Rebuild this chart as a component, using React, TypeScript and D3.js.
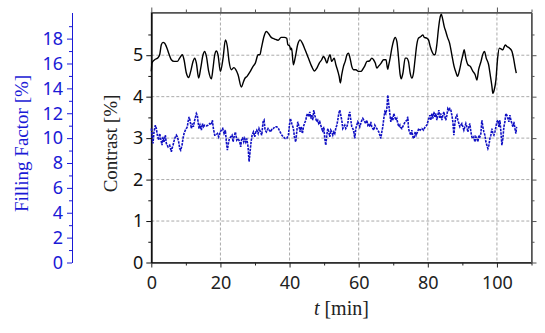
import React, { useEffect, useRef } from 'react';
import * as d3 from 'd3';

// contrast [%] over time [min], black line
const contrastSeries: [number, number][] = [
  [0, 4.61], [0.2, 4.81], [0.97, 4.89], [1.94, 4.94], [2.42, 5.01], [2.9, 5.25], [3.39, 5.31], [3.87, 5.29], [4.35, 5.21],
  [5.03, 5.05], [5.8, 4.89], [6.57, 4.85], [7.53, 4.85], [8.2, 4.93], [8.98, 5.01], [9.47, 4.89], [10.14, 4.57], [10.8, 4.46],
  [11.4, 4.61], [12.07, 4.85], [12.56, 4.93], [13.04, 4.81], [13.71, 4.45], [14.3, 4.69], [14.97, 5.01], [15.45, 5.09],
  [15.94, 4.97], [16.61, 4.61], [17.38, 4.43], [17.86, 4.69], [18.35, 5.01], [18.83, 5.1], [19.3, 5.01], [19.99, 4.61],
  [20.76, 4.93], [21.44, 5.37], [22.0, 5.21], [22.5, 4.85], [23.16, 4.65], [23.9, 4.7], [24.4, 4.66], [25.1, 4.53],
  [26.06, 4.23], [26.55, 4.33], [27.0, 4.43], [27.7, 4.49], [28.5, 4.59], [29.44, 4.73], [30.1, 4.81], [30.9, 5.01],
  [31.4, 5.01], [31.85, 5.17], [32.6, 5.45], [33.3, 5.57], [34.0, 5.51], [34.7, 5.43], [35.7, 5.39], [36.7, 5.36],
  [37.55, 5.43], [38.5, 5.43], [39.2, 5.41], [39.5, 5.25], [39.96, 5.23], [40.45, 5.13], [40.6, 5.17], [41.1, 4.77],
  [41.6, 4.93], [42.4, 5.27], [43.05, 5.37], [43.7, 5.29], [44.5, 5.13], [45.45, 4.93], [46.4, 4.73], [47.2, 4.62],
  [47.9, 4.69], [48.6, 4.81], [49.3, 4.89], [49.8, 4.97], [50.3, 4.91], [50.8, 4.81], [51.25, 4.93], [51.7, 5.01],
  [52.2, 4.85], [52.9, 4.93], [53.4, 4.77], [53.95, 4.62], [54.35, 4.49], [54.7, 4.33], [55.1, 4.53], [55.6, 4.73],
  [56.1, 4.85], [56.6, 5.01], [57.05, 5.05], [57.5, 4.93], [58.0, 4.73], [58.5, 4.65], [59.2, 4.65], [59.9, 4.61],
  [60.7, 4.61], [61.1, 4.65], [61.7, 4.73], [62.4, 4.85], [63.1, 4.86], [63.8, 4.93], [64.3, 4.89], [64.8, 4.81],
  [65.25, 4.69], [65.7, 4.73], [66.5, 4.81], [67.2, 4.89], [67.9, 4.89], [68.4, 4.66], [68.6, 4.73], [69.1, 4.93],
  [69.6, 5.17], [70.1, 5.35], [70.55, 5.43], [71.05, 5.33], [71.5, 4.97], [72.0, 4.53], [72.3, 4.43], [72.8, 4.57],
  [73.45, 4.93], [73.9, 4.93], [74.4, 4.85], [74.9, 4.57], [75.4, 4.45], [75.85, 4.57], [76.35, 4.93], [76.8, 5.25],
  [77.3, 5.41], [78.0, 5.45], [78.6, 5.49], [78.95, 5.43], [79.7, 5.41], [80.2, 5.37], [80.7, 5.21], [81.2, 5.09],
  [81.65, 5.02], [82.1, 5.01], [82.6, 5.25], [83.1, 5.65], [83.6, 5.93], [83.9, 5.99], [84.25, 5.89], [84.75, 5.69],
  [85.2, 5.57], [85.7, 5.43], [86.3, 5.29], [86.95, 5.01], [87.6, 4.73], [88.2, 4.57], [88.6, 4.49], [89.2, 4.65],
  [89.7, 4.85], [90.15, 5.01], [90.5, 5.13], [91.0, 4.93], [91.6, 4.77], [92.3, 4.73], [93.05, 4.61], [93.7, 4.53],
  [94.2, 4.4], [94.7, 4.65], [95.4, 4.85], [95.9, 5.02], [96.4, 5.09], [96.9, 4.93], [97.6, 4.77], [98.05, 4.53],
  [98.55, 4.25], [98.8, 4.08], [99.2, 4.16], [99.7, 4.4], [100.2, 4.93], [100.7, 5.17], [101.2, 5.15], [101.7, 5.13],
  [102.4, 5.25], [102.9, 5.21], [103.65, 5.17], [104.3, 5.1], [104.8, 4.93], [105.3, 4.69], [105.6, 4.57],
];

// filling factor [%] over time [min], blue dashed line
const fillingSeries: [number, number][] = [
  [0.01, 10.77], [0.2, 10.24], [0.49, 9.57], [0.78, 10.5], [1.17, 11.04], [1.46, 10.77], [1.75, 10.24], [2.13, 9.84],
  [2.42, 10.37], [2.71, 9.97], [3.1, 9.43], [3.39, 10.1], [3.68, 9.7], [4.06, 10.24], [4.35, 9.57], [4.84, 9.3],
  [5.32, 9.43], [5.8, 8.9], [6.0, 9.17], [6.28, 9.43], [6.77, 9.97], [7.25, 10.24], [7.54, 10.1], [7.92, 9.7],
  [8.21, 9.17], [8.5, 9.03], [8.89, 9.43], [9.18, 9.97], [9.47, 10.37], [9.85, 10.64], [10.14, 10.77], [10.43, 10.91],
  [10.63, 11.31], [10.92, 11.71], [11.2, 11.44], [11.59, 10.77], [11.88, 11.17], [12.17, 10.91], [12.56, 11.44],
  [13.04, 11.98], [13.33, 11.84], [13.52, 11.31], [13.81, 10.77], [14.1, 11.04], [14.49, 10.64], [14.78, 11.17],
  [15.07, 10.91], [15.45, 11.04], [15.93, 10.99], [16.42, 11.04], [16.9, 11.17], [17.38, 11.09], [17.67, 11.44],
  [17.96, 10.77], [18.35, 10.24], [18.73, 10.24], [19.12, 10.37], [19.5, 10.1], [19.89, 10.5], [20.28, 10.64],
  [20.66, 10.77], [21.05, 10.37], [21.43, 10.64], [21.72, 9.7], [22.01, 9.03], [22.3, 9.57], [22.59, 9.97],
  [22.98, 10.1], [23.37, 10.24], [23.65, 9.7], [23.94, 10.1], [24.33, 10.5], [24.72, 9.84], [25.1, 9.97], [25.58, 9.7],
  [25.87, 9.3], [26.16, 9.97], [26.45, 10.02], [26.74, 9.7], [27.03, 9.97], [27.32, 9.7], [27.61, 9.97], [28.0, 9.3],
  [28.29, 8.1], [28.58, 8.9], [28.87, 9.7], [29.16, 10.24], [29.54, 10.5], [29.93, 10.1], [30.22, 10.5], [30.51, 10.64],
  [30.9, 10.37], [31.18, 10.77], [31.57, 10.5], [31.95, 10.24], [32.34, 11.31], [32.63, 11.44], [32.92, 10.64],
  [33.3, 10.5], [33.79, 10.77], [34.17, 10.64], [34.56, 10.5], [34.95, 10.77], [35.33, 10.77], [35.72, 10.91],
  [36.29, 10.91], [36.78, 10.77], [37.26, 10.5], [37.74, 10.24], [38.22, 10.1], [38.71, 9.97], [39.19, 9.97],
  [39.67, 10.24], [39.96, 11.04], [40.25, 11.58], [40.64, 11.17], [41.12, 10.77], [41.41, 10.1], [41.79, 9.7],
  [42.08, 10.5], [42.37, 11.31], [42.76, 10.91], [43.05, 10.5], [43.34, 10.91], [43.72, 10.37], [44.01, 10.91],
  [44.3, 11.17], [44.69, 11.44], [44.98, 11.84], [45.27, 11.98], [45.56, 11.71], [45.85, 12.11], [46.14, 11.58],
  [46.43, 11.84], [46.72, 11.44], [47.0, 12.25], [47.29, 11.84], [47.58, 11.58], [47.87, 11.31], [48.16, 11.44],
  [48.45, 11.17], [48.74, 11.31], [49.03, 11.04], [49.32, 10.77], [49.61, 10.5], [49.9, 10.91], [50.19, 9.97],
  [50.48, 9.43], [50.77, 10.24], [51.06, 10.77], [51.35, 10.5], [51.64, 10.1], [51.93, 10.64], [52.22, 10.5],
  [52.51, 10.24], [52.8, 10.5], [53.08, 10.37], [53.37, 10.77], [53.66, 11.04], [53.95, 11.44], [54.24, 11.98],
  [54.53, 12.25], [54.82, 11.84], [55.11, 11.44], [55.4, 10.77], [55.69, 10.91], [55.98, 11.04], [56.27, 10.77],
  [56.56, 10.91], [56.85, 11.17], [57.14, 11.84], [57.43, 12.11], [57.72, 11.44], [58.01, 10.91], [58.3, 10.77],
  [58.59, 10.5], [58.88, 9.97], [59.16, 10.77], [59.45, 11.04], [59.74, 11.31], [60.03, 11.17], [60.32, 10.91],
  [60.61, 11.17], [60.9, 11.44], [61.19, 11.58], [61.48, 11.44], [61.77, 11.31], [62.06, 11.17], [62.35, 11.44],
  [62.64, 11.04], [62.93, 11.17], [63.22, 10.91], [63.51, 11.31], [63.8, 10.91], [64.09, 10.77], [64.38, 10.64],
  [64.67, 11.04], [64.95, 10.91], [65.24, 10.77], [65.53, 10.64], [65.82, 10.5], [66.11, 10.24], [66.4, 9.97],
  [66.69, 10.5], [66.98, 10.91], [67.27, 11.58], [67.56, 12.11], [67.85, 11.98], [68.14, 12.38], [68.43, 13.45],
  [68.72, 12.65], [69.01, 11.98], [69.3, 11.31], [69.59, 11.71], [69.88, 11.44], [70.17, 11.98], [70.46, 11.71],
  [70.75, 11.44], [71.04, 11.58], [71.33, 11.17], [71.62, 10.91], [71.91, 11.04], [72.0, 10.91], [72.48, 10.77],
  [72.97, 11.04], [73.45, 11.31], [73.93, 11.44], [74.22, 11.71], [74.41, 10.77], [74.7, 10.5], [75.09, 10.24],
  [75.38, 10.64], [75.67, 10.1], [76.05, 9.97], [76.34, 10.5], [76.63, 10.24], [77.02, 10.5], [77.4, 10.77],
  [77.79, 10.64], [78.27, 10.77], [78.76, 10.64], [79.24, 10.91], [79.72, 11.04], [80.01, 11.31], [80.3, 11.58],
  [80.59, 11.84], [80.88, 11.44], [81.17, 11.98], [81.46, 11.58], [81.75, 12.11], [82.04, 11.71], [82.33, 11.98],
  [82.62, 11.44], [82.91, 11.84], [83.19, 12.25], [83.48, 11.58], [83.77, 11.98], [84.06, 11.44], [84.35, 11.84],
  [84.64, 12.11], [84.93, 11.71], [85.22, 11.44], [85.51, 11.84], [85.8, 12.38], [86.09, 12.25], [86.38, 12.38],
  [86.67, 12.25], [86.96, 11.84], [87.25, 11.31], [87.54, 10.24], [87.83, 11.17], [88.12, 11.71], [88.41, 11.84],
  [88.7, 11.44], [88.99, 11.17], [89.27, 10.91], [89.56, 11.04], [89.85, 11.17], [90.14, 10.91], [90.43, 10.64],
  [90.72, 10.91], [91.01, 11.17], [91.3, 10.91], [91.59, 10.5], [91.88, 10.91], [92.17, 11.17], [92.46, 10.5],
  [92.75, 10.1], [93.04, 9.97], [93.33, 10.1], [93.62, 9.7], [93.91, 10.1], [94.2, 9.97], [94.49, 9.7], [94.78, 10.24],
  [95.06, 10.1], [95.35, 10.37], [95.64, 11.44], [95.93, 10.91], [96.22, 10.5], [96.51, 10.24], [96.8, 9.7],
  [97.09, 9.43], [97.38, 9.17], [97.67, 9.43], [97.96, 9.97], [98.25, 10.24], [98.54, 10.77], [98.83, 10.37],
  [99.12, 10.24], [99.41, 10.5], [99.7, 10.91], [99.99, 11.31], [100.28, 11.44], [100.57, 10.91], [100.86, 11.44],
  [101.15, 10.5], [101.43, 9.43], [101.72, 9.97], [102.01, 10.91], [102.3, 11.31], [102.59, 11.98], [102.88, 11.84],
  [103.17, 11.58], [103.46, 11.31], [103.75, 11.84], [104.04, 11.44], [104.33, 11.17], [104.62, 10.91], [104.91, 11.31],
  [105.2, 10.77], [105.49, 10.37], [105.68, 10.91],
];

const timeTicks = [0, 20, 40, 60, 80, 100];
const timeMinorTicks = [10, 30, 50, 70, 90, 110];
const contrastTicks = [0, 1, 2, 3, 4, 5];
const contrastMinorTicks = [0.5, 1.5, 2.5, 3.5, 4.5, 5.5];
const fillingTicks = [0, 2, 4, 6, 8, 10, 12, 14, 16, 18];
const fillingMinorTicks = [1, 3, 5, 7, 9, 11, 13, 15, 17, 19];

const W = 545;
const H = 333;
const BLUE = '#1a1ad6';
const LINE_BLUE = '#1010c4';

const App = () => {
  const svgRef = useRef<SVGSVGElement>(null);

  useEffect(() => {
    const svg = d3.select(svgRef.current);
    svg.selectAll('*').remove();

    const plot = { left: 151.3, right: 531.5, top: 12.5, bottom: 262.5 };

    const x = d3.scaleLinear().domain([0, 110]).range([plot.left, plot.right]);
    const yC = d3.scaleLinear().domain([0, 6.03]).range([plot.bottom, plot.top]);
    const yF = d3.scaleLinear().domain([0, 20.1]).range([plot.bottom, plot.top]);

    const tickFont = 'Noto Sans, DejaVu Sans, sans-serif';
    const labelFont = 'Liberation Serif, DejaVu Serif, serif';

    const styleAxis = (g: any, color: string) => {
      g.attr('font-family', tickFont).attr('font-size', 18);
      g.select('.domain').attr('stroke', color);
      g.selectAll('.tick line').attr('stroke', color);
      g.selectAll('.tick text').attr('fill', color);
    };

    // grid
    const grid = svg.append('g').attr('class', 'grid');
    grid.selectAll('line.gx')
      .data(timeTicks.filter(d => d > 0))
      .enter()
      .append('line')
      .attr('x1', d => x(d))
      .attr('x2', d => x(d))
      .attr('y1', plot.top)
      .attr('y2', plot.bottom)
      .attr('stroke', '#aaa')
      .attr('stroke-dasharray', '3,2');
    grid.selectAll('line.gy')
      .data(contrastTicks.filter(d => d > 0))
      .enter()
      .append('line')
      .attr('x1', plot.left)
      .attr('x2', plot.right)
      .attr('y1', d => yC(d))
      .attr('y2', d => yC(d))
      .attr('stroke', '#aaa')
      .attr('stroke-dasharray', '3,2');

    // frame
    svg.append('rect')
      .attr('x', plot.left)
      .attr('y', plot.top)
      .attr('width', plot.right - plot.left)
      .attr('height', plot.bottom - plot.top)
      .attr('fill', 'none')
      .attr('stroke', '#555');

    // bottom axis
    const xb = svg.append('g')
      .attr('transform', `translate(0,${plot.bottom})`)
      .call(d3.axisBottom(x).tickValues(timeTicks).tickSize(5).tickSizeOuter(0).tickPadding(9).tickFormat(d3.format('d')));
    styleAxis(xb, '#222');
    const xbm = svg.append('g')
      .attr('transform', `translate(0,${plot.bottom})`)
      .call(d3.axisBottom(x).tickValues(timeMinorTicks).tickSize(3).tickSizeOuter(0).tickFormat(() => ''));
    styleAxis(xbm, '#222');

    // top axis
    const xt = svg.append('g')
      .attr('transform', `translate(0,${plot.top})`)
      .call(d3.axisTop(x).tickValues(timeTicks).tickSize(5).tickSizeOuter(0).tickFormat(() => ''));
    styleAxis(xt, '#555');
    const xtm = svg.append('g')
      .attr('transform', `translate(0,${plot.top})`)
      .call(d3.axisTop(x).tickValues(timeMinorTicks).tickSize(3).tickSizeOuter(0).tickFormat(() => ''));
    styleAxis(xtm, '#555');

    // contrast axis (left)
    const yl = svg.append('g')
      .attr('transform', `translate(${plot.left},0)`)
      .call(d3.axisLeft(yC).tickValues(contrastTicks).tickSize(5).tickSizeOuter(0).tickPadding(3).tickFormat(d3.format('d')));
    styleAxis(yl, '#111');
    yl.select('.domain').attr('stroke-width', 1.5);
    const ylm = svg.append('g')
      .attr('transform', `translate(${plot.left},0)`)
      .call(d3.axisLeft(yC).tickValues(contrastMinorTicks).tickSize(3).tickSizeOuter(0).tickFormat(() => ''));
    styleAxis(ylm, '#111');

    // right axis
    const yr = svg.append('g')
      .attr('transform', `translate(${plot.right},0)`)
      .call(d3.axisRight(yC).tickValues(contrastTicks).tickSize(5).tickSizeOuter(0).tickFormat(() => ''));
    styleAxis(yr, '#555');
    const yrm = svg.append('g')
      .attr('transform', `translate(${plot.right},0)`)
      .call(d3.axisRight(yC).tickValues(contrastMinorTicks).tickSize(3).tickSizeOuter(0).tickFormat(() => ''));
    styleAxis(yrm, '#555');

    // filling factor axis (far left, blue)
    const fAxisX = 72;
    const yf = svg.append('g')
      .attr('transform', `translate(${fAxisX},0)`)
      .call(d3.axisLeft(yF).tickValues(fillingTicks).tickSize(5).tickSizeOuter(0).tickPadding(4).tickFormat(d3.format('d')));
    styleAxis(yf, BLUE);
    const yfm = svg.append('g')
      .attr('transform', `translate(${fAxisX},0)`)
      .call(d3.axisLeft(yF).tickValues(fillingMinorTicks).tickSize(3).tickSizeOuter(0).tickFormat(() => ''));
    styleAxis(yfm, BLUE);

    // lines
    const contrastLine = d3.line<[number, number]>().x(d => x(d[0])).y(d => yC(d[1])).curve(d3.curveMonotoneX);
    const fillingLine = d3.line<[number, number]>().x(d => x(d[0])).y(d => yF(d[1]));

    svg.append('path')
      .datum(fillingSeries)
      .attr('fill', 'none')
      .attr('stroke', LINE_BLUE)
      .attr('stroke-width', 1.6)
      .attr('stroke-dasharray', '2.5,1')
      .attr('d', fillingLine);

    svg.append('path')
      .datum(contrastSeries)
      .attr('fill', 'none')
      .attr('stroke', '#000')
      .attr('stroke-width', 1.4)
      .attr('d', contrastLine);

    // axis labels
    svg.append('text')
      .attr('transform', `translate(${(plot.left + plot.right) / 2},315) `)
      .attr('text-anchor', 'middle')
      .attr('font-family', labelFont)
      .attr('font-size', 20)
      .attr('fill', '#222')
      .call(t => {
        t.append('tspan').attr('font-style', 'italic').text('t');
        t.append('tspan').text(' [min]');
      });

    svg.append('text')
      .attr('transform', `translate(117,${(plot.top + plot.bottom) / 2 + 6}) rotate(-90)`)
      .attr('text-anchor', 'middle')
      .attr('font-family', labelFont)
      .attr('font-size', 19)
      .attr('fill', '#222')
      .text('Contrast [%]');

    svg.append('text')
      .attr('transform', `translate(28,${(plot.top + plot.bottom) / 2 + 6}) rotate(-90)`)
      .attr('text-anchor', 'middle')
      .attr('font-family', labelFont)
      .attr('font-size', 19)
      .attr('fill', BLUE)
      .text('Filling Factor [%]');
  }, []);

  return (
    <svg
      ref={svgRef}
      width={W}
      height={H}
      style={{ position: 'absolute', left: 0, top: 0, background: '#fff' }}
    ></svg>
  );
};

export default App;
